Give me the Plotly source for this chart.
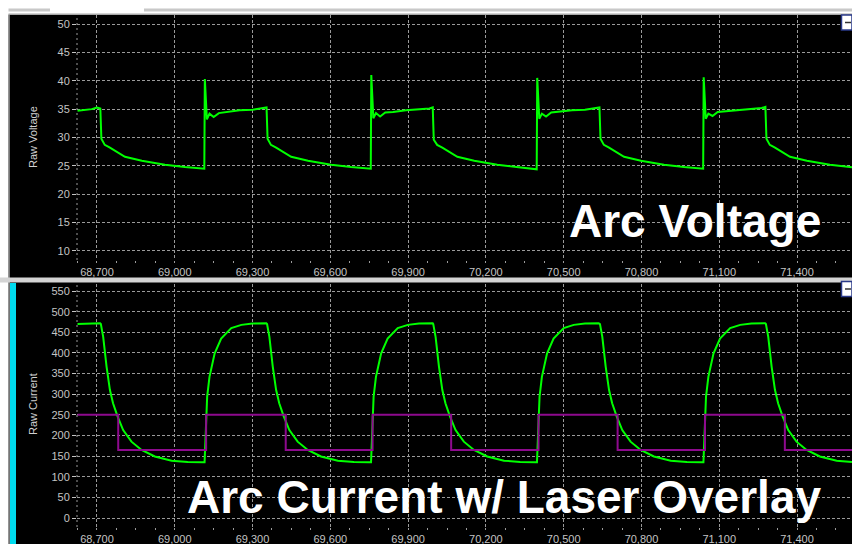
import plotly.graph_objects as go
from plotly.subplots import make_subplots

# ---------------- data ----------------
volt_x = [68625, 68650, 68680, 68700, 68713,
          68717, 68730, 68750, 68808, 68873, 68962, 69039, 69100, 69114,
          69116, 69120, 69124, 69134, 69150, 69170, 69200, 69250, 69300, 69340, 69354,
          69358, 69371, 69391, 69449, 69514, 69603, 69680, 69741, 69756,
          69758, 69762, 69766, 69776, 69792, 69812, 69842, 69892, 69942, 69982, 69995,
          69999, 70012, 70032, 70090, 70155, 70244, 70321, 70382, 70396,
          70398, 70402, 70406, 70416, 70432, 70452, 70482, 70532, 70582, 70622, 70638,
          70642, 70655, 70675, 70733, 70798, 70887, 70964, 71024, 71038,
          71040, 71044, 71048, 71058, 71074, 71094, 71124, 71174, 71224, 71264, 71278,
          71282, 71295, 71315, 71373, 71438, 71527, 71604, 71612]
volt_y = [34.7, 34.8, 35.0, 35.3, 35.1,
          29.8, 28.7, 28.2, 26.6, 25.9, 25.2, 24.8, 24.6, 24.5,
          40.3, 37.0, 33.2, 34.2, 33.6, 34.3, 34.5, 34.8, 34.9, 35.1, 35.3,
          29.8, 28.7, 28.2, 26.6, 25.9, 25.2, 24.8, 24.6, 24.5,
          41.0, 37.0, 33.4, 34.3, 33.7, 34.4, 34.5, 34.8, 34.9, 35.1, 35.3,
          29.6, 28.7, 28.2, 26.6, 25.9, 25.2, 24.8, 24.5, 24.4,
          40.5, 37.0, 33.3, 34.2, 33.7, 34.4, 34.6, 34.8, 34.9, 35.1, 35.3,
          29.8, 28.7, 28.2, 26.6, 25.9, 25.2, 24.8, 24.6, 24.5,
          40.6, 37.0, 33.3, 34.2, 33.8, 34.5, 34.6, 34.9, 35.0, 35.2, 35.4,
          29.8, 28.7, 28.2, 26.6, 25.9, 25.2, 24.8, 24.75]

curr_x = [68625, 68670, 68712,
          68715, 68724, 68737, 68750, 68762, 68779, 68801, 68833, 68872, 68923, 68988, 69050, 69110,
          69115, 69125, 69134, 69154, 69179, 69218, 69257, 69300, 69353,
          69356, 69365, 69378, 69391, 69403, 69420, 69442, 69474, 69513, 69564, 69629, 69691, 69751,
          69757, 69767, 69776, 69796, 69821, 69860, 69899, 69942, 69995,
          69997, 70006, 70019, 70032, 70044, 70061, 70083, 70115, 70154, 70205, 70270, 70332, 70392,
          70397, 70407, 70416, 70436, 70461, 70500, 70539, 70582, 70635,
          70640, 70649, 70662, 70675, 70687, 70704, 70726, 70758, 70797, 70848, 70913, 70975, 71035,
          71039, 71049, 71058, 71078, 71103, 71142, 71181, 71224, 71277,
          71280, 71289, 71302, 71315, 71327, 71344, 71366, 71398, 71437, 71488, 71553, 71612]
curr_y = [470, 471, 472,
          470, 439, 367, 310, 278, 247, 213, 185, 165, 149, 139, 136, 135,
          135, 294, 342, 399, 435, 460, 468, 471, 472,
          470, 439, 367, 310, 278, 247, 213, 185, 165, 149, 139, 136, 135,
          135, 294, 342, 399, 435, 460, 468, 471, 472,
          470, 439, 367, 310, 278, 247, 213, 185, 165, 149, 139, 136, 135,
          135, 294, 342, 399, 435, 460, 468, 471, 472,
          470, 439, 367, 310, 278, 247, 213, 185, 165, 149, 139, 136, 135,
          135, 294, 342, 399, 435, 460, 468, 471, 472,
          470, 439, 367, 310, 278, 247, 213, 185, 165, 149, 139, 136]

laser_x = [68625, 68782, 69121, 69428, 69763, 70066, 70403, 70708, 71045, 71353, 71612]
laser_y = [250, 165, 250, 165, 250, 165, 250, 165, 250, 165, 165]

volt_ticks = [10, 15, 20, 25, 30, 35, 40, 45, 50]
curr_ticks = [0, 50, 100, 150, 200, 250, 300, 350, 400, 450, 500, 550]
x_ticks = [68700, 69000, 69300, 69600, 69900, 70200, 70500, 70800, 71100, 71400]

title_top = "Arc Voltage"
title_bottom = "Arc Current w/ Laser Overlay"
ylabel_top = "Raw Voltage"
ylabel_bottom = "Raw Current"

# ---------------- figure ----------------
W, H = 852, 544
ML, MR, MT, MB = 77, 0, 15, 17
PW, PH = W - ML - MR, H - MT - MB


def fx(px):
    return (px - ML) / PW


def fy(py):
    return (H - MB - py) / PH


fig = make_subplots(rows=2, cols=1, vertical_spacing=0.0)

GREEN = "#00ff00"
fig.add_trace(go.Scatter(x=volt_x, y=volt_y, mode="lines",
                         line=dict(color=GREEN, width=2), hoverinfo="skip"), row=1, col=1)
fig.add_trace(go.Scatter(x=curr_x, y=curr_y, mode="lines",
                         line=dict(color=GREEN, width=2), hoverinfo="skip"), row=2, col=1)
fig.add_trace(go.Scatter(x=laser_x, y=laser_y, mode="lines", line_shape="hv",
                         line=dict(color="#8e0a8e", width=2), hoverinfo="skip"), row=2, col=1)

GRID = "#9a9a9a"
TICKC = "#c4c4c4"
tickfont = dict(family="Liberation Sans, Arial, sans-serif", size=11, color=TICKC)

xcommon = dict(range=[68623, 71612], tickvals=x_ticks, tickformat=",d",
               showgrid=True, gridcolor=GRID, griddash="3px,2px", gridwidth=1,
               zeroline=False, showline=False, ticks="outside", ticklen=2,
               tickcolor=GRID, tickfont=tickfont,
               minor=dict(dtick=75, tick0=0, ticks="outside", ticklen=2,
                          tickcolor=GRID, showgrid=False))
fig.update_xaxes(**xcommon)

ycommon = dict(showgrid=True, gridcolor=GRID, griddash="3px,2px", gridwidth=1,
               zeroline=False, showline=False, ticks="outside", ticklen=4,
               tickcolor=TICKC, tickfont=tickfont)
fig.update_yaxes(**ycommon)
fig.update_yaxes(range=[8.41, 51.59], tickvals=volt_ticks, row=1, col=1)
fig.update_yaxes(range=[-21.8, 567], tickvals=curr_ticks, row=2, col=1)

top_dom = [fy(260), fy(15)]
bot_dom = [fy(527), fy(284)]
fig.update_layout(yaxis=dict(domain=top_dom), yaxis2=dict(domain=bot_dom),
                  xaxis=dict(anchor="y"), xaxis2=dict(anchor="y2"))

shapes = []
# window chrome
shapes.append(dict(type="rect", xref="paper", yref="paper", x0=fx(0), x1=fx(852), y0=fy(0), y1=fy(14),
                   fillcolor="white", line_width=0, layer="below"))
for a, b in [(3, 50), (144, 852)]:
    shapes.append(dict(type="rect", xref="paper", yref="paper", x0=fx(a), x1=fx(b), y0=fy(8.5), y1=fy(11.5),
                       fillcolor="#c8c8c8", line_width=0, layer="below"))
shapes.append(dict(type="rect", xref="paper", yref="paper", x0=fx(8), x1=fx(852), y0=fy(13.5), y1=fy(15),
                   fillcolor="#a8a8a8", line_width=0, layer="below"))
shapes.append(dict(type="rect", xref="paper", yref="paper", x0=fx(0), x1=fx(8.5), y0=fy(0), y1=fy(544),
                   fillcolor="white", line_width=0, layer="below"))
shapes.append(dict(type="rect", xref="paper", yref="paper", x0=fx(8.5), x1=fx(9.7), y0=fy(14), y1=fy(544),
                   fillcolor="#a8a8a8", line_width=0, layer="below"))
shapes.append(dict(type="rect", xref="paper", yref="paper", x0=fx(0), x1=fx(852), y0=fy(277.5), y1=fy(282.5),
                   fillcolor="#d4d4d4", line_width=0, layer="below"))
shapes.append(dict(type="rect", xref="paper", yref="paper", x0=fx(10), x1=fx(16), y0=fy(283), y1=fy(544),
                   fillcolor="#00dcef", line_width=0, layer="below"))
# dotted y-axis lines
for d in (top_dom, bot_dom):
    shapes.append(dict(type="line", xref="paper", yref="paper", x0=0, x1=0, y0=d[0], y1=d[1],
                       line=dict(color=GRID, width=1, dash="2px,3px"), layer="above"))
# minimise buttons
for top in (15, 281.5):
    shapes.append(dict(type="rect", xref="paper", yref="paper", x0=fx(841.5), x1=fx(852), y0=fy(top), y1=fy(top + 15),
                       fillcolor="white", line=dict(color="#2a3a8a", width=1.5), layer="above"))
    shapes.append(dict(type="line", xref="paper", yref="paper", x0=fx(845), x1=fx(851), y0=fy(top + 7.5), y1=fy(top + 7.5),
                       line=dict(color="#333333", width=1.5), layer="above"))
fig.update_layout(shapes=shapes)

ann = []
big = dict(family="Liberation Sans, Arial, sans-serif", size=46, color="white")
ann.append(dict(text="<b>%s</b>" % title_top, xref="paper", yref="paper", x=fx(823), y=fy(221),
                xanchor="right", yanchor="middle", showarrow=False, font=big))
ann.append(dict(text="<b>%s</b>" % title_bottom, xref="paper", yref="paper", x=fx(823), y=fy(497),
                xanchor="right", yanchor="middle", showarrow=False, font=big))
small = dict(family="Liberation Sans, Arial, sans-serif", size=11, color="#d0d0d0")
ann.append(dict(text=ylabel_top, xref="paper", yref="paper", x=fx(33), y=fy(137), textangle=-90,
                xanchor="center", yanchor="middle", showarrow=False, font=small))
ann.append(dict(text=ylabel_bottom, xref="paper", yref="paper", x=fx(33), y=fy(404), textangle=-90,
                xanchor="center", yanchor="middle", showarrow=False, font=small))
fig.update_layout(annotations=ann)

fig.update_layout(width=W, height=H, margin=dict(l=ML, r=MR, t=MT, b=MB, pad=0),
                  paper_bgcolor="black", plot_bgcolor="black", showlegend=False)

fig.write_html("out.html")
